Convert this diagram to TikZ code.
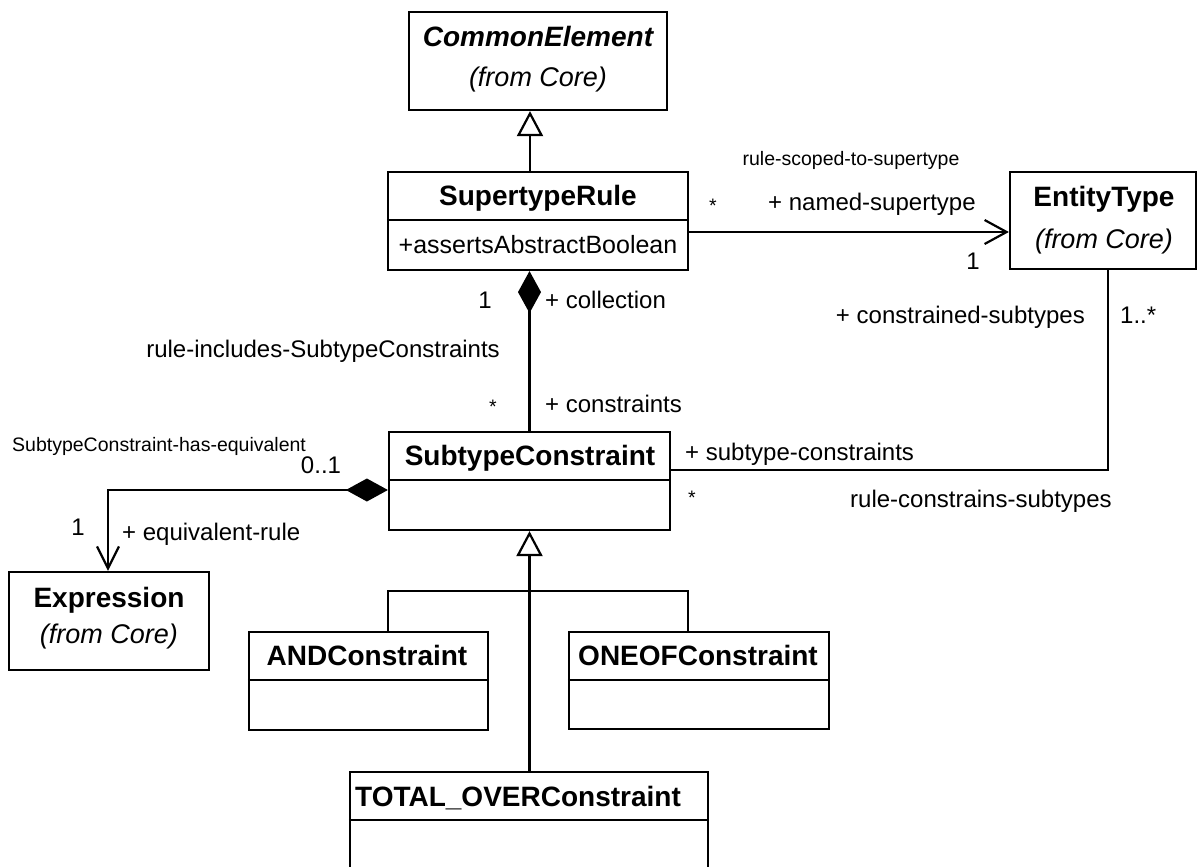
\documentclass[tikz,border=0pt]{standalone}
\usepackage{fontspec}
\setmainfont{Liberation Sans}
\usetikzlibrary{arrows.meta}
\tikzset{
  umlclass/.style={draw, rectangle, inner sep=0pt, line width=2.2pt},
  clsname/.style={font=\fontsize{28}{32}\selectfont\bfseries, inner sep=0pt, anchor=base},
  clsfrom/.style={font=\fontsize{27}{32}\selectfont\itshape, inner sep=0pt, anchor=base},
  attrtext/.style={font=\fontsize{25}{30}\selectfont, inner sep=0pt, anchor=base},
  rolelabel/.style={font=\fontsize{24}{28}\selectfont, inner sep=0pt, anchor=base},
  smalllabel/.style={font=\fontsize{19.5}{23}\selectfont, inner sep=0pt, anchor=base},
  gen/.style={line width=2.2pt, -{Triangle[open, length=25pt, width=26pt]}},
  nav/.style={line width=2.2pt, -{Straight Barb[length=22pt, width=24pt]}},
  comp/.style={line width=2.2pt, {Diamond[length=42pt, width=23pt]}-},
  compnav/.style={line width=2.2pt, {Diamond[length=42pt, width=23pt]}-{Straight Barb[length=22pt, width=22pt]}},
  plainline/.style={line width=2.2pt}
}
\begin{document}
\begin{tikzpicture}[x=1pt, y=-1pt]
  \useasboundingbox (0,0) rectangle (1197,867);

  % Classes
  \node[umlclass, minimum width=258pt, minimum height=98pt] (ce) at (538,61) {};
  \node[clsname, font=\fontsize{28}{32}\selectfont\bfseries\itshape] (cetitle) at (538,47) {CommonElement};
  \node[clsfrom] (cefrom) at (538,87) {(from Core)};

  \node[umlclass, minimum width=300pt, minimum height=98pt] (sr) at (538,221) {};
  \node[clsname] (srtitle) at (538,205) {SupertypeRule};
  \node[attrtext] (srattr) at (538,253) {+assertsAbstractBoolean};
  \draw[plainline] (sr.west |- 0,220) -- (sr.east |- 0,220);

  \node[umlclass, minimum width=186pt, minimum height=97pt] (et) at (1103,220.5) {};
  \node[clsname] (ettitle) at (1104,206) {EntityType};
  \node[clsfrom] (etfrom) at (1104,248) {(from Core)};

  \node[umlclass, minimum width=281pt, minimum height=98pt] (sc) at (529.5,481) {};
  \node[clsname] (sctitle) at (530,465) {SubtypeConstraint};
  \draw[plainline] (sc.west |- 0,480) -- (sc.east |- 0,480);

  \node[umlclass, minimum width=200pt, minimum height=98pt] (ex) at (109,621) {};
  \node[clsname] (extitle) at (109,607) {Expression};
  \node[clsfrom] (exfrom) at (109,643) {(from Core)};

  \node[umlclass, minimum width=239pt, minimum height=98pt] (and) at (368.5,681) {};
  \node[clsname] (andtitle) at (367,665) {ANDConstraint};
  \draw[plainline] (and.west |- 0,680) -- (and.east |- 0,680);

  \node[umlclass, minimum width=260pt, minimum height=97pt] (oneof) at (699,680.5) {};
  \node[clsname] (oneoftitle) at (698,665) {ONEOFConstraint};
  \draw[plainline] (oneof.west |- 0,680) -- (oneof.east |- 0,680);

  \node[umlclass, minimum width=358pt, minimum height=128pt] (total) at (529,836) {};
  \node[clsname] (totaltitle) at (518,806) {TOTAL\_OVERConstraint};
  \draw[plainline] (total.west |- 0,820) -- (total.east |- 0,820);

  % Generalizations
  \draw[gen] ([xshift=-8pt]sr.north) -- ([xshift=-8pt]ce.south);
  \coordinate (gj) at ([yshift=-60pt]sc.south);
  \draw[gen] (gj) -- (sc.south);
  \draw[plainline] ([xshift=19.5pt]and.north) |- (gj) -| ([xshift=-11pt]oneof.north);
  \draw[plainline] (gj) -- (gj |- total.north);

  % SupertypeRule -> EntityType
  \draw[nav] ([yshift=-11pt]sr.east) -- ([yshift=-11pt]sr.east -| et.west);
  \node[smalllabel] (scopedname) at (851,165) {rule-scoped-to-supertype};
  \node[smalllabel] (srmult) at (713,212) {*};
  \node[rolelabel, anchor=base west] (namedrole) at (768,210) {+ named-supertype};
  \node[rolelabel] (etmult) at (973,269) {1};

  % SupertypeRule <>-- SubtypeConstraint
  \draw[comp] (sc.north |- sr.south) -- (sc.north);
  \node[rolelabel] (collmult) at (485,308) {1};
  \node[rolelabel, anchor=base west] (collrole) at (545,308) {+ collection};
  \node[rolelabel, anchor=base east] (inclname) at (500,357) {rule-includes-SubtypeConstraints};
  \node[smalllabel] (consmult) at (493,413) {*};
  \node[rolelabel, anchor=base west] (consrole) at (545,412) {+ constraints};

  % SubtypeConstraint -- EntityType
  \draw[plainline] ([yshift=11pt]sc.east) -| ([xshift=5pt]et.south);
  \node[rolelabel, anchor=base east] (subrole) at (1085,323) {+ constrained-subtypes};
  \node[rolelabel, anchor=base west] (submult) at (1120,323) {1..*};
  \node[rolelabel, anchor=base west] (scrole) at (685,460) {+ subtype-constraints};
  \node[smalllabel] (scmult) at (692,504) {*};
  \node[rolelabel, anchor=base west] (constrname) at (850,507) {rule-constrains-subtypes};

  % SubtypeConstraint <>--> Expression
  \draw[compnav] ([yshift=-9pt]sc.west) -| ([xshift=-1pt]ex.north);
  \node[smalllabel, anchor=base west] (eqname) at (12,451) {SubtypeConstraint-has-equivalent};
  \node[rolelabel] (eqmult) at (321,473) {0..1};
  \node[rolelabel] (exmult) at (78,535) {1};
  \node[rolelabel, anchor=base west] (eqrole) at (122,540) {+ equivalent-rule};
\end{tikzpicture}
\end{document}
